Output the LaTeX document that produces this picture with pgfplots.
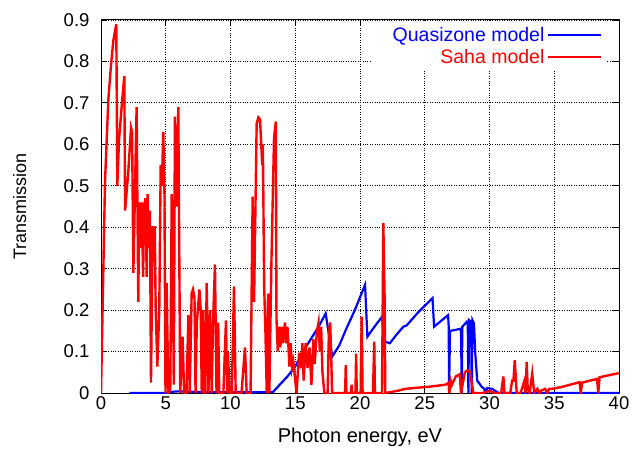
\documentclass[border=0pt]{standalone}
\usepackage{fontspec}
\setmainfont{Liberation Sans}
\usepackage{pgfplots}
\pgfplotsset{compat=1.18}
\usetikzlibrary{calc}

\begin{document}
\begin{tikzpicture}
\begin{axis}[
    name=ax,
    scale only axis,
    width=518pt, height=373pt,
    xmin=0, xmax=40,
    ymin=0, ymax=0.9,
    xtick={0,5,...,40},
    ytick={0,0.1,0.2,0.3,0.4,0.5,0.6,0.7,0.8,0.9},
    tick align=inside,
    major tick length=6pt,
    tick style={black, line width=0.8pt},
    axis line style={black, line width=1pt},
    grid=major,
    major grid style={black, dotted, line width=0.8pt},
    /pgf/number format/assume math mode=true,
    ticklabel style={font=\fontsize{18.5}{20}\selectfont},
    yticklabel style={xshift=-8pt},
    xlabel={Photon energy, eV},
    ylabel={Transmission},
    xlabel style={at={(axis description cs:0.5,-0.118)}, anchor=center, font=\fontsize{20}{22}\selectfont},
    ylabel style={at={(axis description cs:-0.157,0.5)}, anchor=center, font=\fontsize{18}{20}\selectfont},
    legend plot pos=right,
    legend cell align=right,
    legend image code/.code={\draw[#1] (12pt,0pt) -- (65pt,0pt);},
    legend style={at={(0.975,0.997)}, anchor=north east, draw=none, fill=white,
        font=\fontsize{19.5}{21}\selectfont, inner xsep=4pt, inner ysep=4pt, row sep=2.5pt},
]
% Quasizone model
\addplot[blue, line width=2.2pt] coordinates {
(2.2,0) (5,0) (5.5,0.003) (6,0.004) (8,0.002) (10,0.002) (13.0,0.002) (13.3,0.003)
(13.8,0.02) (14.4,0.04) (15.0,0.064) (15.6,0.1) (16.2,0.13) (16.8,0.16) (17.35,0.192)
(17.86,0.088) (18.4,0.115) (18.9,0.152) (19.6,0.2) (20.39,0.261) (20.57,0.136)
(21.0,0.155) (21.7,0.184) (21.85,0.125) (22.3,0.12) (22.8,0.14) (23.35,0.16)
(23.6,0.163) (24.5,0.195) (25.6,0.229) (25.72,0.16) (26.3,0.175) (26.8,0.188)
(26.85,0.16) (26.88,0.005) (26.95,0.15) (27.34,0.152) (27.72,0.155) (27.8,0.15)
(27.86,0) (27.9,0.16) (28.25,0.172) (28.32,0.17) (28.37,0) (28.42,0.176) (28.58,0.172)
(28.63,0) (28.68,0.176) (28.8,0.168) (28.9,0.096) (29.05,0.03) (29.4,0.015) (29.6,0.01)
(29.7,-0.017) (29.8,0.012) (30.2,0.01) (30.7,0) (40,0)
};
\addlegendentry{\hspace*{16pt}\textcolor{blue}{Quasizone model}}
% Saha model
\addplot[red, line width=2.4pt] coordinates {
(0,0) (0.31,0.51) (0.57,0.71) (0.77,0.79) (0.95,0.85) (1.18,0.89) (1.26,0.50) (1.39,0.61)
(1.62,0.70) (1.8,0.765) (1.86,0.44) (2.1,0.53) (2.32,0.64) (2.4,0.63) (2.5,0.29) (2.6,0.45)
(2.75,0.69) (2.8,0.5) (2.88,0.22) (2.95,0.46) (3.05,0.35) (3.15,0.46) (3.25,0.28) (3.33,0.45)
(3.43,0.47) (3.53,0.28) (3.6,0.48) (3.68,0.35) (3.78,0.44) (3.86,0.025) (3.99,0.40) (4.15,0.40)
(4.22,0.21) (4.35,0.064) (4.5,0.2) (4.61,0.55) (4.7,0.5) (4.81,0.63) (4.9,0.48) (4.98,0)
(5.07,0.265) (5.2,0) (5.35,0.01) (5.46,0.48) (5.55,0.3) (5.62,0.02) (5.71,0.667) (5.82,0.45)
(5.97,0.69) (6.03,0.4) (6.12,0) (6.3,0.136) (6.42,0) (6.6,0) (6.75,0.188) (6.85,0) (7.0,0.24)
(7.1,0.25) (7.22,0.23) (7.3,0) (7.4,0.17) (7.6,0.25) (7.7,0.2) (7.78,0) (7.9,0.2) (8.0,0)
(8.05,-0.017) (8.16,0.265) (8.3,0) (8.42,0.2) (8.55,0) (8.65,0.17) (8.8,0.31) (8.92,0)
(9.05,0.17) (9.13,0) (9.25,0) (9.45,0) (9.65,0.175) (9.75,0) (9.8,0.1) (9.93,0) (10.1,0)
(10.27,0.257) (10.4,0) (10.6,0) (10.85,0) (11.12,0.11) (11.25,0) (11.55,0) (11.71,0.474)
(11.82,0.22) (12.02,0.65) (12.15,0.665) (12.28,0.66) (12.38,0.595) (12.45,0.55) (12.5,0.6)
(12.6,0.257) (12.7,0.145) (12.8,0) (12.9,0.24) (13.0,0) (13.15,0.3) (13.36,0.615) (13.5,0.655)
(13.55,0.18) (13.65,0.10) (13.75,0.16) (13.85,0.11) (13.95,0.16) (14.05,0.12) (14.2,0.17)
(14.3,0.12) (14.4,0.16) (14.55,0.064) (14.65,0.12) (14.75,0.06) (14.85,0.076) (15.1,0)
(15.3,0.097) (15.45,0.06) (15.55,0.12) (15.65,0.03) (15.8,0.12) (15.95,0.06) (16.1,0.11)
(16.25,0.02) (16.4,0.13) (16.5,0.07) (16.66,0.145) (16.8,0.17) (16.9,0.1) (17.0,0.16)
(17.1,0.05) (17.25,0) (17.5,0) (17.6,0.15) (17.7,0.17) (17.85,0) (18.1,0) (18.5,0) (18.85,0)
(18.9,0.067) (18.95,0) (19.3,0) (19.35,0.02) (19.4,0) (19.65,0) (19.7,0.095) (19.75,0)
(20.05,0) (20.13,0.184) (20.2,0) (21.0,0) (21.1,0.124) (21.15,0) (21.7,0) (21.8,0.41)
(21.9,0.23) (21.95,0) (22.5,0.003) (23.0,0.006) (23.5,0.01) (24.5,0.013) (25.3,0.015)
(26.6,0.02) (26.85,0.025) (26.9,0) (27.0,0.03) (27.1,0.02) (27.4,0.04) (27.7,0.045) (27.8,0)
(28.1,0.05) (28.3,0.055) (28.5,0.05) (28.75,0) (29.5,0) (30,0.005) (30.4,0) (30.9,0)
(31.07,0.04) (31.15,0) (31.6,0) (31.75,0.03) (31.85,0.03) (31.95,0.079) (32.1,0) (32.4,0)
(32.7,0.03) (32.78,0) (32.87,0.075) (32.95,0.01) (33.1,0) (33.3,0.047) (33.45,0) (33.7,0.01)
(33.85,0) (34.0,0.006) (34.3,0.01) (34.45,0) (34.6,0.01) (34.8,0.01) (35.5,0.014) (36.95,0.026)
(37.05,0) (37.15,0.025) (38.3,0.034) (38.4,0) (38.5,0.038) (39.98,0.048)
};
\addlegendentry{\textcolor{red}{Saha model}}
\end{axis}
\pgfresetboundingbox
\path ($(ax.south west)+(-101pt,-55pt)$) rectangle ($(ax.north east)+(14pt,20pt)$);
\end{tikzpicture}
\end{document}
